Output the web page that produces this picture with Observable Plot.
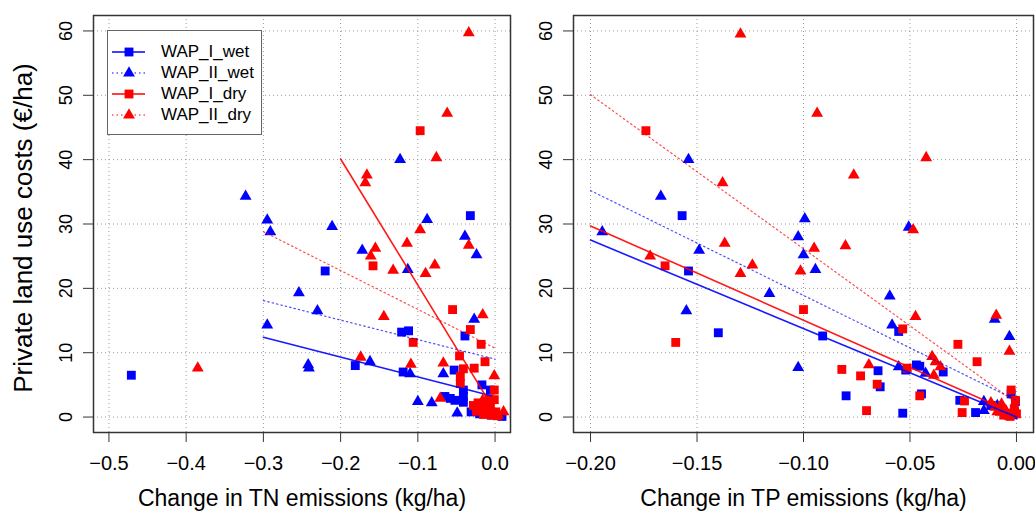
<!DOCTYPE html>
<html>
<head>
<meta charset="utf-8">
<script src="https://cdn.jsdelivr.net/npm/d3@7"></script>
<script src="https://cdn.jsdelivr.net/npm/@observablehq/plot@0.6"></script>
<style>
  html, body { margin: 0; padding: 0; background: #fff; }
  #wrap { position: relative; width: 1035px; height: 511px; display: flex; flex-direction: row; font-family: "Liberation Sans", Arial, sans-serif; }
  #wrap svg { display: block; }
  .legend { position: absolute; left: 107px; top: 30px; width: 155px; height: 105px; box-sizing: border-box; border: 1px solid #666; background: #fff; }
  .legend .row { position: absolute; left: 0; height: 20px; display: flex; align-items: center; }
  .legend .row span { font-size: 17px; color: #000; margin-left: 13px; line-height: 20px; }
</style>
</head>
<body>
<div id="wrap"></div>
<script>
// ---------- series definitions ----------
const seriesNames   = ["WAP_I_wet", "WAP_II_wet", "WAP_I_dry", "WAP_II_dry"];
const seriesColors  = ["#0000ff", "#0000ff", "#ff0000", "#ff0000"];
const seriesSymbols = ["square", "triangle", "square", "triangle"];
const seriesDashed  = [false, true, false, true];

// ---------- axis ticks ----------
const yTicks   = [0, 10, 20, 30, 40, 50, 60];
const tnTicks  = [-0.5, -0.4, -0.3, -0.2, -0.1, 0.0];
const tpTicks  = [-0.20, -0.15, -0.10, -0.05, 0.00];
const yLabel   = "Private land use costs (€/ha)";
const tnLabel  = "Change in TN emissions (kg/ha)";
const tpLabel  = "Change in TP emissions (kg/ha)";

// ---------- TN panel: [change in TN, cost] ----------
const tn_WAP_I_wet = [
  [-0.471, 6.5], [-0.220, 22.7], [-0.032, 31.3], [-0.181, 8.0], [-0.121, 13.2], [-0.112, 13.4],
  [-0.119, 7.0], [-0.039, 12.6], [-0.053, 7.3], [-0.065, 3.2], [-0.058, 2.9], [-0.052, 2.6],
  [-0.041, 4.2], [-0.041, 3.2], [-0.041, 2.3], [-0.031, 0.8], [-0.017, 5.0], [-0.006, 4.2],
  [0.009, 0.1], [-0.020, 0.5], [-0.005, 0.3], [-0.012, 1.2]
];
const tn_WAP_II_wet = [
  [-0.323, 34.3], [-0.295, 30.6], [-0.291, 28.8], [-0.211, 29.6], [-0.123, 40.0], [-0.088, 30.7],
  [-0.295, 14.3], [-0.254, 19.3], [-0.230, 16.5], [-0.242, 8.1], [-0.241, 7.6], [-0.172, 25.9],
  [-0.162, 8.6], [-0.113, 22.9], [-0.100, 2.4], [-0.082, 2.2], [-0.067, 6.7], [-0.049, 0.6],
  [-0.039, 28.1], [-0.024, 25.2], [-0.027, 15.2], [-0.110, 6.7], [-0.015, 0.7], [-0.008, 1.5],
  [-0.003, 0.3]
];
const tn_WAP_I_dry = [
  [-0.097, 44.5], [-0.158, 23.5], [-0.106, 11.6], [-0.055, 16.7], [-0.032, 13.6], [-0.018, 11.3],
  [-0.046, 9.5], [-0.041, 7.5], [-0.045, 6.3], [-0.045, 5.2], [-0.027, 7.6], [-0.013, 8.6],
  [-0.001, 4.2], [-0.001, 2.7], [-0.028, 1.8], [-0.022, 2.2], [-0.018, 1.2], [-0.013, 2.0],
  [-0.010, 0.8], [-0.006, 1.6], [-0.004, 0.3], [0.001, 0.8], [-0.015, 0.4], [-0.024, 0.9],
  [0.003, 0.2], [-0.008, 2.8]
];
const tn_WAP_II_dry = [
  [-0.385, 7.6], [-0.034, 59.7], [-0.062, 47.2], [-0.076, 40.3], [-0.166, 37.6], [-0.168, 36.4],
  [-0.097, 29.1], [-0.155, 26.2], [-0.161, 25.0], [-0.114, 27.0], [-0.132, 22.8], [-0.090, 22.3],
  [-0.078, 23.6], [-0.034, 26.7], [-0.144, 15.6], [-0.016, 15.9], [-0.174, 9.3], [-0.109, 8.2],
  [-0.067, 8.4], [-0.001, 6.4], [-0.071, 2.9], [0.011, 0.8], [-0.020, 1.5], [-0.012, 0.6],
  [-0.006, 0.9], [0.004, 0.3], [-0.016, 2.6], [-0.009, 2.2]
];
// fitted lines (start, end)
const tn_fit_WAP_I_wet  = [[-0.300, 12.4], [-0.005, 3.3]];
const tn_fit_WAP_II_wet = [[-0.300, 18.1], [0.000, 9.0]];
const tn_fit_WAP_I_dry  = [[-0.200, 40.1], [-0.005, 1.9]];
const tn_fit_WAP_II_dry = [[-0.300, 28.8], [0.000, 10.7]];

// ---------- TP panel: [change in TP, cost] ----------
const tp_WAP_I_wet = [
  [-0.157, 31.3], [-0.154, 22.7], [-0.140, 13.1], [-0.091, 12.6], [-0.065, 7.2], [-0.064, 4.7],
  [-0.080, 3.3], [-0.0553, 13.3], [-0.0534, 0.6], [-0.052, 7.3], [-0.047, 8.1], [-0.0454, 7.9],
  [-0.0344, 7.0], [-0.0446, 3.6], [-0.0025, 3.6], [-0.0005, 2.4], [-0.0266, 2.6], [-0.0192, 0.7],
  [-0.008, 1.0], [-0.004, 0.3], [-0.001, 0.8], [-0.012, 1.8]
];
const tp_WAP_II_wet = [
  [-0.154, 40.0], [-0.167, 34.3], [-0.0994, 30.8], [-0.0506, 29.5], [-0.1945, 28.8], [-0.149, 25.9],
  [-0.116, 19.2], [-0.1025, 28.0], [-0.100, 25.2], [-0.0944, 22.9], [-0.155, 16.5], [-0.1025, 7.7],
  [-0.0595, 18.8], [-0.0584, 14.3], [-0.0553, 7.8], [-0.0427, 6.8], [-0.0102, 15.2], [-0.0033, 12.5],
  [-0.0153, 2.4], [-0.0153, 1.0], [-0.009, 1.8], [-0.005, 0.6], [-0.002, 0.2]
];
const tp_WAP_I_dry = [
  [-0.174, 44.5], [-0.165, 23.5], [-0.160, 11.6], [-0.100, 16.7], [-0.082, 7.4], [-0.0732, 6.4],
  [-0.0654, 5.1], [-0.0704, 1.0], [-0.0534, 13.7], [-0.0513, 7.6], [-0.0454, 3.3], [-0.0275, 11.3],
  [-0.0185, 8.6], [-0.0025, 4.2], [-0.0005, 2.6], [-0.0244, 2.5], [-0.0255, 0.7], [-0.006, 0.3],
  [-0.003, 0.1], [0.000, 0.5], [-0.008, 0.9], [-0.001, 1.3]
];
const tp_WAP_II_dry = [
  [-0.1296, 59.5], [-0.0936, 47.2], [-0.0424, 40.3], [-0.0764, 37.6], [-0.138, 36.4], [-0.0485, 29.1],
  [-0.172, 25.0], [-0.137, 27.0], [-0.124, 23.6], [-0.1296, 22.3], [-0.095, 26.2], [-0.1014, 22.7],
  [-0.0803, 26.6], [-0.0693, 8.1], [-0.0474, 15.6], [-0.0396, 9.4], [-0.038, 8.6], [-0.0357, 7.8],
  [-0.0388, 6.5], [-0.0095, 15.8], [-0.0033, 10.2], [-0.012, 2.2], [-0.010, 1.5], [-0.007, 2.0],
  [-0.005, 1.0], [-0.003, 0.4], [-0.009, 0.8]
];
const tp_fit_WAP_I_wet  = [[-0.200, 27.5], [0.000, 0.0]];
const tp_fit_WAP_II_wet = [[-0.200, 35.2], [0.000, 2.6]];
const tp_fit_WAP_I_dry  = [[-0.200, 29.7], [0.000, 0.4]];
const tp_fit_WAP_II_dry = [[-0.200, 50.1], [0.000, 2.2]];

// ---------- build ----------
const FONT = "'Liberation Sans', Arial, Helvetica, sans-serif";
const toRows = (arr) => arr.map(([x, y]) => ({x, y}));

function panel({points, fits, xDomain, xTicks, xFormat, xLabel, showYLabel, width, marginLeft, marginRight}) {
  const marks = [
    Plot.gridX(xTicks, {stroke: "#9a9a9a", strokeOpacity: 1, strokeWidth: 1, strokeDasharray: "1,3"}),
    Plot.gridY(yTicks, {stroke: "#9a9a9a", strokeOpacity: 1, strokeWidth: 1, strokeDasharray: "1,3"})
  ];
  points.forEach((pts, i) => {
    const sq = seriesSymbols[i] === "square";
    marks.push(Plot.dot(toRows(pts), {
      x: "x", y: "y", symbol: seriesSymbols[i], fill: seriesColors[i], stroke: "none",
      r: sq ? 5.0 : 4.4
    }));
  });
  fits.forEach((f, i) => {
    marks.push(Plot.line(toRows(f), {
      x: "x", y: "y", stroke: seriesColors[i],
      strokeWidth: seriesDashed[i] ? 1.2 : 1.6,
      strokeOpacity: seriesDashed[i] ? 0.7 : 0.9,
      strokeDasharray: seriesDashed[i] ? "1.5,3" : null
    }));
  });
  marks.push(Plot.frame({stroke: "#333", strokeWidth: 1.5}));
  marks.push(Plot.axisX(xTicks, {tickSize: 10, tickPadding: 13, tickFormat: xFormat, label: null, fontSize: 20, stroke: "#333"}));
  marks.push(Plot.axisY(yTicks, {tickSize: 10, tickPadding: 12, tickRotate: -90, label: null, fontSize: 18, stroke: "#333"}));
  marks.push(Plot.text([xLabel], {text: (d) => d, frameAnchor: "bottom", textAnchor: "middle", lineAnchor: "bottom", dy: 73, fontSize: 23, fill: "#000"}));
  if (showYLabel) {
    marks.push(Plot.text([yLabel], {text: (d) => d, frameAnchor: "left", textAnchor: "middle", rotate: -90, lineAnchor: "top", dx: -80, dy: 4, fontSize: 26, fill: "#000"}));
  }
  return Plot.plot({
    width, height: 511,
    marginTop: 15, marginBottom: 79, marginLeft, marginRight,
    style: {fontFamily: FONT, color: "#000", background: "transparent", overflow: "visible"},
    x: {domain: xDomain},
    y: {domain: [-2.4, 62.4]},
    marks
  });
}

const wrap = document.getElementById("wrap");
wrap.appendChild(panel({
  points: [tn_WAP_I_wet, tn_WAP_II_wet, tn_WAP_I_dry, tn_WAP_II_dry],
  fits: [tn_fit_WAP_I_wet, tn_fit_WAP_II_wet, tn_fit_WAP_I_dry, tn_fit_WAP_II_dry],
  xDomain: [-0.52, 0.02], xTicks: tnTicks, xFormat: d3.format(".1f"), xLabel: tnLabel,
  showYLabel: true, width: 517, marginLeft: 93, marginRight: 7
}));
wrap.appendChild(panel({
  points: [tp_WAP_I_wet, tp_WAP_II_wet, tp_WAP_I_dry, tp_WAP_II_dry],
  fits: [tp_fit_WAP_I_wet, tp_fit_WAP_II_wet, tp_fit_WAP_I_dry, tp_fit_WAP_II_dry],
  xDomain: [-0.208, 0.008], xTicks: tpTicks, xFormat: d3.format(".2f"), xLabel: tpLabel,
  showYLabel: false, width: 518, marginLeft: 56, marginRight: 2
}));

// ---------- legend ----------
const legend = document.createElement("div");
legend.className = "legend";
seriesNames.forEach((name, i) => {
  const row = document.createElement("div");
  row.className = "row";
  row.style.top = (11 + i * 21) + "px";
  const ns = "http://www.w3.org/2000/svg";
  const s = document.createElementNS(ns, "svg");
  s.setAttribute("width", 40); s.setAttribute("height", 20);
  s.style.display = "block";
  const ln = document.createElementNS(ns, "line");
  ln.setAttribute("x1", 4); ln.setAttribute("x2", 37); ln.setAttribute("y1", 10); ln.setAttribute("y2", 10);
  ln.setAttribute("stroke", seriesColors[i]);
  ln.setAttribute("stroke-width", seriesDashed[i] ? 1.2 : 1.6);
  if (seriesDashed[i]) ln.setAttribute("stroke-dasharray", "1.5,3");
  s.appendChild(ln);
  const sym = document.createElementNS(ns, "path");
  const size = seriesSymbols[i] === "square" ? Math.PI * 25 : Math.PI * 4.4 * 4.4;
  sym.setAttribute("d", d3.symbol(seriesSymbols[i] === "square" ? d3.symbolSquare : d3.symbolTriangle, size)());
  sym.setAttribute("transform", "translate(21,10)");
  sym.setAttribute("fill", seriesColors[i]);
  s.appendChild(sym);
  row.appendChild(s);
  const t = document.createElement("span");
  t.textContent = name;
  row.appendChild(t);
  legend.appendChild(row);
});
wrap.appendChild(legend);
</script>
</body>
</html>
